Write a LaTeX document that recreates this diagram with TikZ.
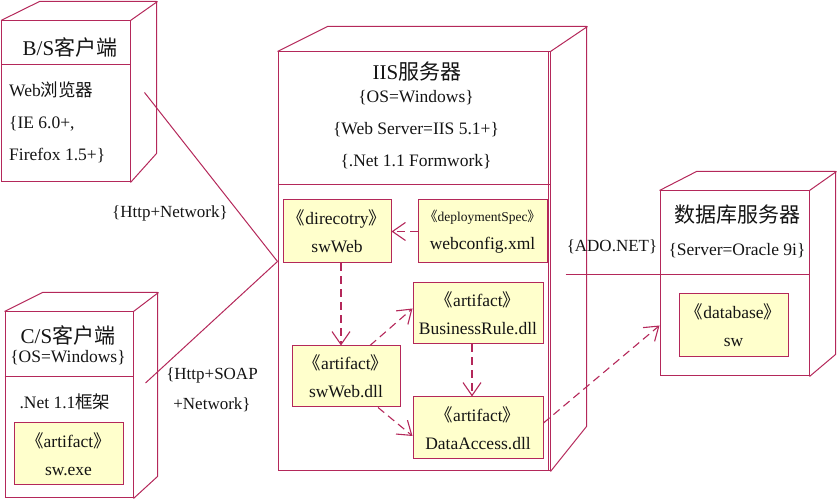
\documentclass[tikz,border=0pt]{standalone}
\usepackage{fontspec}
\setmainfont{Liberation Serif}
\newfontfamily\cjk{Noto Sans CJK SC}
\usepackage{tikz}
\usetikzlibrary{arrows.meta,positioning,calc}
\definecolor{nodeline}{RGB}{180,40,90}
\definecolor{artyellow}{RGB}{255,255,204}
\definecolor{inktext}{RGB}{20,20,20}
\newcommand\stype[1]{{\cjk\makebox[.55em][r]{《}}#1{\cjk\makebox[.55em][l]{》}}}
\tikzset{
  nodeface/.style={
    rectangle,
    draw=nodeline,
    line width=1pt,
    inner sep=0pt
  },
  nodeedge/.style={
    draw=nodeline,
    line width=1pt,
    line join=round
  },
  artbox/.style={
    rectangle,
    draw=nodeline,
    fill=artyellow,
    line width=1pt,
    align=center,
    inner sep=2pt,
    text=inktext,
    font=\fontsize{17.5}{28}\selectfont
  },
  titletext/.style={
    text=inktext,
    inner sep=0pt,
    font=\fontsize{21}{24}\selectfont
  },
  bodytext/.style={
    text=inktext,
    align=center,
    inner sep=0pt,
    font=\fontsize{17.5}{32}\selectfont
  },
  linktext/.style={
    text=inktext,
    align=center,
    inner sep=0pt,
    font=\fontsize{17}{30}\selectfont
  },
  linkline/.style={
    draw=nodeline,
    line width=1pt
  },
  deparrow/.style={
    draw=nodeline,
    line width=1.1pt,
    dash pattern=on 8pt off 5pt,
    -{Straight Barb[length=13pt,width=18pt]}
  }
}

\begin{document}
\begin{tikzpicture}[x=1pt,y=1pt]
\useasboundingbox (0,0) rectangle (837,500);

% B/S client
\node[nodeface, minimum width=128.5pt, minimum height=161pt] (bs) at (65.75,398.5) {};
\draw[nodeedge] (bs.north west) -- ++(38.5,19) -- ++(117,0) -- ++(0,-152) -- (bs.south east);
\draw[nodeedge] (bs.north east) -- ++(27,19);
\draw[nodeedge] ($(bs.north west)+(0,-44)$) -- ($(bs.north east)+(0,-44)$);
\node[titletext] (bstitle) at (70,453) {B/S{\cjk 客户端}};
\node[bodytext, align=left, anchor=west] (bsbody) at (9,378) {Web{\cjk 浏览器}\\\{IE 6.0+,\\Firefox 1.5+\}};

% C/S client
\node[nodeface, minimum width=128pt, minimum height=186pt] (cs) at (69,95) {};
\draw[nodeedge] (cs.north west) -- ++(38,19) -- ++(115,0) -- ++(0,-184) -- (cs.south east);
\draw[nodeedge] (cs.north east) -- ++(25,19);
\draw[nodeedge] ($(cs.north west)+(0,-65)$) -- ($(cs.north east)+(0,-65)$);
\node[titletext] (cstitle) at (68,165) {C/S{\cjk 客户端}};
\node[bodytext] (csos) at (68,142) {\{OS=Windows\}};
\node[bodytext] (csnet) at (65,98) {.Net 1.1{\cjk 框架}};
\node[artbox, minimum width=109pt, minimum height=62pt] (swexe) at (68.5,46) {\stype{artifact}\\sw.exe};

% IIS server
\node[nodeface, minimum width=272pt, minimum height=419pt] (iis) at (414,238.5) {};
\draw[nodeedge] (iis.north west) -- ++(50,25) -- ++(259,0) -- ++(0,-400) -- (iis.south east);
\draw[nodeedge] (iis.north east) -- ++(37,25);
\draw[nodeedge, line width=0.6pt] ($(iis.north east)+(-2.5,0)$) -- ($(iis.south east)+(-2.5,0)$);
\draw[nodeedge] ($(iis.north west)+(0,-133)$) -- ($(iis.north east)+(0,-133)$);
\node[titletext] (iistitle) at (417,428) {IIS{\cjk 服务器}};
\node[bodytext] (iisspec) at (416,370) {\{OS=Windows\}\\\{Web Server=IIS 5.1+\}\\\{.Net 1.1 Formwork\}};

\node[artbox, minimum width=108pt, minimum height=63pt] (swweb) at (337,268.5) {\stype{direcotry}\\swWeb};
\node[artbox, minimum width=129pt, minimum height=63pt] (webcfg) at (482.5,268.5) {{\fontsize{13.5}{13.5}\selectfont\stype{deploymentSpec}}\\webconfig.xml};
\node[artbox, minimum width=130pt, minimum height=61pt] (bizrule) at (478,186.5) {\stype{artifact}\\BusinessRule.dll};
\node[artbox, minimum width=108pt, minimum height=61pt] (swwebdll) at (346,123.5) {\stype{artifact}\\swWeb.dll};
\node[artbox, minimum width=130pt, minimum height=62pt] (dataacc) at (478,72) {\stype{artifact}\\DataAccess.dll};

% database server
\node[nodeface, minimum width=149pt, minimum height=185pt] (dbsrv) at (734.5,216.5) {};
\draw[nodeedge] (dbsrv.north west) -- ++(37,19) -- ++(139,0) -- ++(0,-183) -- (dbsrv.south east);
\draw[nodeedge] (dbsrv.north east) -- ++(27,19);
\draw[nodeedge] ($(dbsrv.north west)+(0,-84)$) -- ($(dbsrv.north east)+(0,-84)$);
\node[titletext] (dbtitle) at (737,285) {\cjk 数据库服务器};
\node[bodytext] (dbspec) at (737,249) {\{Server=Oracle 9i\}};
\node[artbox, minimum width=109pt, minimum height=63pt] (swdb) at (733.5,174.5) {\stype{database}\\sw};

% links
\coordinate (bsport) at ($(bs.east)+(14,9)$);
\coordinate (csport) at ($(cs.east)+(12,22)$);
\coordinate (iisport) at ($(iis.east)+(15,-13.5)$);
\draw[linkline] (bsport) -- (iis.west);
\draw[linkline] (csport) -- (iis.west);
\draw[linkline] (iisport) -- (dbsrv.west |- iisport);
\node[linktext] (httplink) at (170,287) {\{Http+Network\}};
\node[linktext] (soaplink) at (212,110) {\{Http+SOAP\\+Network\}};
\node[linktext] (adolink) at (612,253) {\{ADO.NET\}};

% dependencies
\draw[deparrow] (webcfg.west) -- (swweb.east);
\draw[deparrow] ($(swweb.south)+(4,0)$) -- ($(swwebdll.north)+(-5,0)$);
\draw[deparrow] ($(swwebdll.north)+(24,0)$) -- ($(bizrule.west)+(0,5)$);
\draw[deparrow] ($(bizrule.south)+(-6,0)$) -- ($(dataacc.north)+(-6,0)$);
\draw[deparrow] ($(swwebdll.south)+(32,0)$) -- ($(dataacc.west)+(0,-8)$);
\draw[deparrow] ($(dataacc.east)+(0,5)$) -- (dbsrv.west |- swdb);
\end{tikzpicture}
\end{document}
